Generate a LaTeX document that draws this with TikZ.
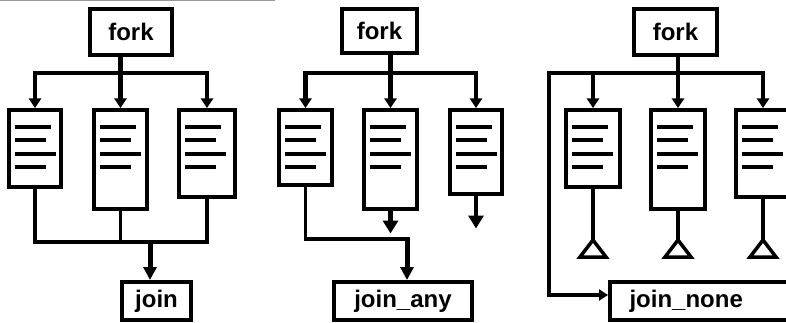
\documentclass[tikz,border=0pt]{standalone}
\usepackage{fontspec}
\setmainfont{Liberation Sans}
\usetikzlibrary{arrows.meta,calc}
\tikzset{
  box/.style={draw, line width=4pt, fill=white, inner sep=0pt,
    font=\bfseries\fontsize{24}{28}\selectfont},
  forkbox/.style={box, minimum height=46pt},
  joinbox/.style={box, minimum height=38pt},
  task/.style={draw, line width=4pt, fill=white, inner sep=0pt, anchor=north},
  wire/.style={line width=3.5pt, line cap=rect, line join=miter},
  arrow/.style={line width=4.5pt, line cap=rect, line join=miter,
    -{Triangle[length=9.5pt, width=12pt]}},
  big arrow/.style={line width=5pt, line cap=rect,
    -{Triangle[length=13pt, width=13pt]}},
  stub arrow/.style={line width=4.5pt, -{Triangle[length=13pt, width=15pt]}},
  ground/.style={line width=3.5pt, line join=miter, fill=white},
}
% text lines inside a task box
\newcommand\tasklines[1]{%
  \foreach \len [count=\i] in {36,31,41,31}
    \draw[line width=4pt] ($(#1.north west)+(8,{6+13.2*\i})$) -- ++(\len,0);
}

\begin{document}
\begin{tikzpicture}[x=1pt, y=-1pt]
  \useasboundingbox (0,0) rectangle (786,323);
  \draw[black!40, line width=1.5pt] (0,0.75) -- (275,0.75);

  % fork ... join
  \node[forkbox, minimum width=82pt] (fork1) at (131,32) {fork};
  \node[task, minimum width=52pt, minimum height=77pt] (t11) at (35,108) {};
  \node[task, minimum width=53pt, minimum height=99pt] (t12) at (120.5,108) {};
  \node[task, minimum width=56pt, minimum height=87pt] (t13) at (207,108) {};
  \node[joinbox, minimum width=69pt] (join1) at (156.5,301) {join};
  \coordinate (top1) at (120.5,73);
  \coordinate (bus1) at (150,242);
  \foreach \t in {t11,t12,t13} {\tasklines{\t}}
  \draw[arrow] (fork1.south -| t12.north) -- (t12.north);
  \draw[wire] (top1 -| t11) -- (top1 -| t13);
  \draw[arrow] (top1 -| t11) -- (t11.north);
  \draw[arrow] (top1 -| t13) -- (t13.north);
  \draw[wire] (t11.south) |- (t13.south |- bus1) -- (t13.south);
  \draw[wire] (t12.south) -- (t12.south |- bus1);
  \draw[big arrow] (bus1) -- (bus1 |- join1.north);

  % fork ... join_any
  \node[forkbox, minimum width=75pt, minimum height=44pt] (fork2) at (379.5,31) {fork};
  \node[task, minimum width=53pt, minimum height=75pt] (t21) at (305.5,108) {};
  \node[task, minimum width=53pt, minimum height=99pt] (t22) at (390.5,108) {};
  \node[task, minimum width=52pt, minimum height=84pt] (t23) at (476,108) {};
  \node[joinbox, minimum width=138pt] (join2) at (403,301) {join\_any};
  \coordinate (top2) at (390.5,73);
  \coordinate (bus2) at (407,239);
  \coordinate (e22) at ($(t22.south)+(0,22.5)$);
  \coordinate (e23) at ($(t23.south)+(0,32.5)$);
  \foreach \t in {t21,t22,t23} {\tasklines{\t}}
  \draw[arrow] (fork2.south -| t22.north) -- (t22.north);
  \draw[wire] (top2 -| t21) -- (top2 -| t23);
  \draw[arrow] (top2 -| t21) -- (t21.north);
  \draw[arrow] (top2 -| t23) -- (t23.north);
  \draw[wire] (t21.south) |- (bus2);
  \draw[big arrow] (bus2) -- (bus2 |- join2.north);
  \draw[stub arrow] (t22.south) -- (e22);
  \draw[stub arrow] (t23.south) -- (e23);

  % fork ... join_none
  \node[forkbox, minimum width=83pt] (fork3) at (675.5,32) {fork};
  \node[task, minimum width=54pt, minimum height=77pt] (t31) at (593,108) {};
  \node[task, minimum width=54pt, minimum height=99pt] (t32) at (678,108) {};
  \node[task, minimum width=54pt, minimum height=87pt] (t33) at (763,108) {};
  \node[joinbox, anchor=west, minimum width=212pt, text width=173pt,
    align=left, inner xsep=19.5pt] (join3) at (608,301) {join\_none};
  \coordinate (top3) at (549,73);
  \coordinate (loop3) at (549,295);
  \coordinate (gnd) at (0,240);
  \foreach \t in {t31,t32,t33} {\tasklines{\t}}
  \draw[arrow] (fork3.south -| t32.north) -- (t32.north);
  \draw[wire, -{Triangle[length=9pt, width=11pt]}]
    (top3 -| t33) -- (top3) -- (loop3) -- (loop3 -| join3.west);
  \draw[arrow] (top3 -| t31) -- (t31.north);
  \draw[arrow] (top3 -| t33) -- (t33.north);
  \foreach \i in {1,2,3} {
    \draw[line width=3.5pt] (t3\i.south) -- (t3\i.south |- gnd) coordinate (g\i);
    \draw[ground] (g\i) -- ++(-13,17) -- ++(26,0) -- cycle;
  }
\end{tikzpicture}
\end{document}
